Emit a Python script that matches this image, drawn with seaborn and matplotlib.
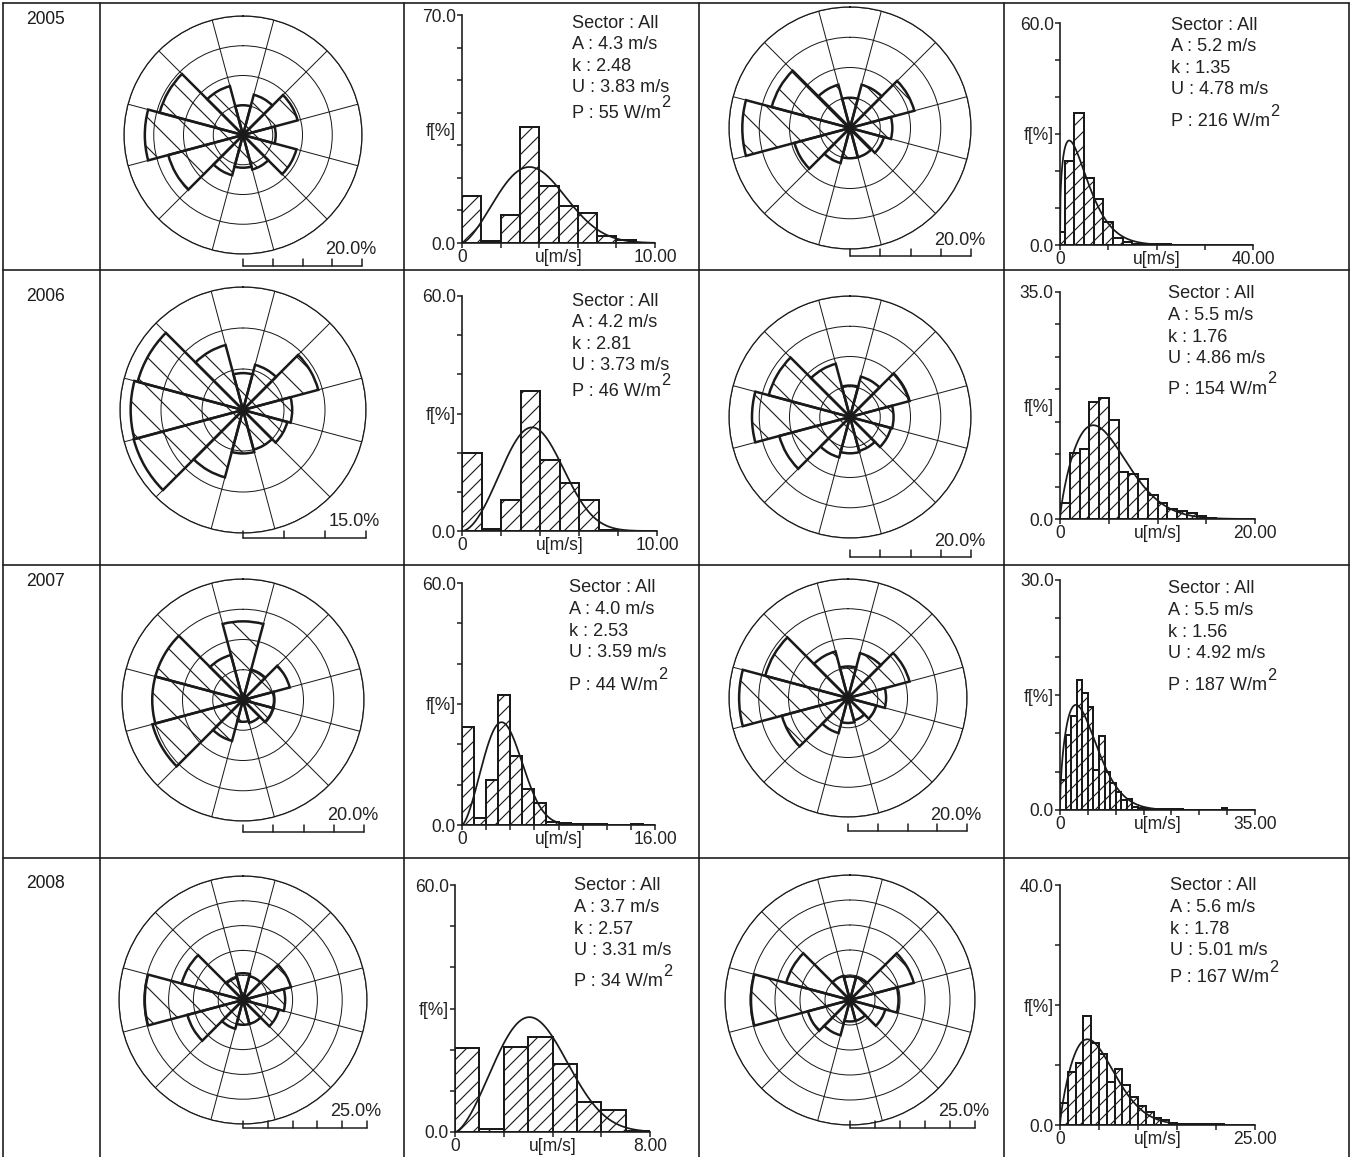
import numpy as np
import matplotlib
matplotlib.use('Agg')
import matplotlib.pyplot as plt
from matplotlib.lines import Line2D
import seaborn as sns

W, H, DPI = 1352, 1157, 90

years = ['2005', '2006', '2007', '2008']
sector_dirs = [0, 30, 60, 90, 120, 150, 180, 210, 240, 270, 300, 330]

# wind rose frequencies [%] per sector (N clockwise), left and right rose of each year
rose_2005_a = [5.0, 7.0, 9.5, 5.5, 9.3, 6.0, 5.5, 7.0, 13.0, 16.5, 14.5, 8.5]
rose_2005_b = [5.0, 7.4, 11.0, 7.0, 5.8, 5.0, 5.0, 6.0, 9.5, 17.8, 13.4, 7.4]
rose_2006_a = [4.5, 5.7, 9.5, 6.0, 5.6, 5.0, 5.3, 8.5, 13.8, 13.7, 13.3, 8.2]
rose_2006_b = [5.2, 6.9, 10.2, 7.2, 7.0, 5.8, 6.0, 6.9, 12.1, 16.2, 13.9, 9.1]
rose_2007_a = [13.0, 5.2, 8.0, 5.2, 5.2, 3.9, 3.6, 7.0, 15.5, 15.0, 15.0, 7.7]
rose_2007_b = [5.3, 7.8, 10.7, 6.4, 4.9, 3.9, 4.2, 6.1, 11.5, 18.3, 14.4, 8.1]
rose_2008_a = [5.4, 5.0, 10.0, 8.5, 7.5, 5.0, 5.0, 6.0, 11.6, 19.8, 12.8, 4.7]
rose_2008_b = [4.7, 4.7, 13.2, 9.7, 7.3, 4.3, 4.3, 7.3, 8.7, 19.8, 13.2, 5.0]
roses = [rose_2005_a, rose_2005_b, rose_2006_a, rose_2006_b,
         rose_2007_a, rose_2007_b, rose_2008_a, rose_2008_b]
rose_scale = [20, 20, 15, 20, 20, 20, 25, 25]

# Weibull statistics shown next to each histogram
weib_A = [4.3, 5.2, 4.2, 5.5, 4.0, 5.5, 3.7, 5.6]
weib_k = [2.48, 1.35, 2.81, 1.76, 2.53, 1.56, 2.57, 1.78]
mean_U = [3.83, 4.78, 3.73, 4.86, 3.59, 4.92, 3.31, 5.01]
power_P = [55, 216, 46, 154, 44, 187, 34, 167]

# speed histograms [%]
hist_2005_a_edges = list(np.arange(0, 11, 1.0))
hist_2005_a = [14.3, 0.5, 8.7, 35.5, 17.6, 11.5, 9.2, 2.2, 0.8, 0.0]
hist_2005_b_edges = [0.0] + list(np.arange(1, 30, 2.0))
hist_2005_b = [3.6, 22.6, 35.6, 18.0, 12.4, 6.3, 1.8, 0.9, 0.4, 0.3, 0.2, 0.2, 0.1, 0.1, 0.1]
hist_2006_a_edges = list(np.arange(0, 9, 1.0))
hist_2006_a = [19.9, 0.5, 7.9, 35.7, 18.1, 12.2, 7.9, 0.2]
hist_2006_b_edges = list(np.arange(0, 17, 1.0))
hist_2006_b = [2.4, 10.1, 10.8, 18.1, 18.7, 15.3, 7.2, 6.9, 6.1, 3.7, 2.4, 1.6, 1.3, 0.9, 0.5, 0.2]
hist_2007_a_edges = list(np.arange(0, 17, 1.0))
hist_2007_a = [24.2, 1.7, 11.2, 32.3, 17.1, 8.9, 5.4, 0.8, 0.5, 0.3, 0.2, 0.3, 0.1, 0.1, 0.3, 0.0]
hist_2007_b_edges = list(np.arange(0, 31, 1.0))
hist_2007_b = [3.9, 9.8, 12.2, 17.0, 15.3, 13.5, 5.2, 9.6, 5.0, 3.5, 2.4, 1.3, 1.4, 0.4, 0.2,
               0.1, 0.1, 0.1, 0.1, 0.1, 0.1, 0.1, 0.0, 0.0, 0.0, 0.0, 0.0, 0.0, 0.0, 0.2]
hist_2008_a_edges = list(np.arange(0, 9, 1.0))
hist_2008_a = [20.4, 0.7, 20.6, 23.0, 16.5, 7.3, 5.3, 0.3]
hist_2008_b_edges = list(np.arange(0, 22, 1.0))
hist_2008_b = [3.7, 8.9, 10.4, 18.1, 13.6, 11.8, 7.1, 9.4, 6.7, 4.6, 3.1, 2.1, 1.2, 0.9, 0.4,
               0.2, 0.1, 0.1, 0.1, 0.1, 0.1]
hist_edges = [hist_2005_a_edges, hist_2005_b_edges, hist_2006_a_edges, hist_2006_b_edges,
              hist_2007_a_edges, hist_2007_b_edges, hist_2008_a_edges, hist_2008_b_edges]
hist_vals = [hist_2005_a, hist_2005_b, hist_2006_a, hist_2006_b,
             hist_2007_a, hist_2007_b, hist_2008_a, hist_2008_b]
bin_width = [1, 2, 1, 1, 1, 1, 1, 1]
x_max = [10, 40, 10, 20, 16, 35, 8, 25]
x_step = [2, 10, 2, 5, 2, 5, 2, 5]
y_max = [70, 60, 60, 35, 60, 30, 60, 40]
y_step = [10, 10, 10, 5, 10, 5, 10, 10]

# layout in pixels
rose_center = [(243, 135), (850, 128), (243, 410), (850, 417),
               (243, 700), (848, 698), (243, 1000), (850, 1000)]
rose_rad = [119, 121, 123, 121, 121, 119, 124, 125]
bar_off = [1.10, 1.06, 1.04, 1.16, 1.09, 1.12, 1.03, 1.02]
hist_box = [(462, 15, 655, 243), (1060, 23, 1253, 245), (462, 296, 657, 531), (1060, 292, 1255, 519),
            (462, 583, 655, 825), (1060, 580, 1255, 810), (455, 885, 650, 1132), (1060, 885, 1255, 1125)]
text_pos = [(572, 23), (1171, 25), (572, 301), (1168, 294),
            (569, 588), (1168, 589), (574, 886), (1170, 886)]
p_gap = [90, 97, 90, 95, 97, 97, 96, 92]
year_y = [20, 297, 582, 884]

sns.set_theme(style='white')
plt.rcParams['font.family'] = ['Liberation Sans', 'DejaVu Sans']
plt.rcParams['hatch.linewidth'] = 0.9

fig = plt.figure(figsize=(W / DPI, H / DPI), dpi=DPI)
fig.patch.set_facecolor('white')


def add_px_axes(x0, y0, x1, y1, **kw):
    return fig.add_axes([x0 / W, 1 - y1 / H, (x1 - x0) / W, (y1 - y0) / H], **kw)


# table grid
for x in [3, 100, 404, 699, 1004, 1349]:
    fig.add_artist(Line2D([x / W, x / W], [0, 1 - 3 / H], transform=fig.transFigure, color='k', lw=1.3))
for y in [3, 270, 565, 858]:
    fig.add_artist(Line2D([3 / W, 1349 / W], [1 - y / H, 1 - y / H], transform=fig.transFigure, color='k', lw=1.3))

for yr, yy in zip(years, year_y):
    fig.text(26 / W, 1 - yy / H, yr, fontsize=14, va='center', ha='left', color='k')

# wind roses
for i in range(8):
    cx, cy = rose_center[i]
    R = rose_rad[i]
    ax = add_px_axes(cx - R, cy - R, cx + R, cy + R, projection='polar')
    ax.set_theta_zero_location('N')
    ax.set_theta_direction(-1)
    ax.bar(np.deg2rad(sector_dirs), roses[i], width=np.deg2rad(30), bottom=0,
           facecolor='none', edgecolor='k', linewidth=2.0, hatch='\\', zorder=3)
    ax.set_ylim(0, rose_scale[i])
    ax.set_yticks(np.arange(5, rose_scale[i] + 0.1, 5))
    ax.set_yticklabels([])
    ax.set_xticks(np.deg2rad(np.arange(15, 360, 30)))
    ax.set_xticklabels([])
    ax.grid(True, color='k', linewidth=0.8)
    ax.spines['polar'].set_color('k')
    ax.spines['polar'].set_linewidth(1.0)
    ax.set_facecolor('none')
    # scale bar
    n = rose_scale[i] // 5
    yb = 0.5 - bar_off[i] / 2
    th = 7 / (2 * R)
    ax.plot([0.5, 1.0], [yb, yb], transform=ax.transAxes, color='k', lw=1.2, clip_on=False)
    for j in range(n + 1):
        xt = 0.5 + 0.5 * j / n
        ax.plot([xt, xt], [yb, yb + th], transform=ax.transAxes, color='k', lw=1.2, clip_on=False)
    ax.text(1.0 + 14 / (2 * R), yb + 16 / (2 * R), f'{rose_scale[i]:.1f}%', transform=ax.transAxes,
            ha='right', va='center', fontsize=14.5, color='#222222')

# histograms with Weibull fit
for i in range(8):
    ax = add_px_axes(*hist_box[i])
    edges = list(hist_edges[i])
    centers = [(a + b) / 2 for a, b in zip(edges[:-1], edges[1:])]
    sns.histplot(x=centers, weights=hist_vals[i], bins=edges, ax=ax, stat='count',
                 facecolor='white', edgecolor='k', linewidth=1.6, hatch='//', alpha=1)
    A, k = weib_A[i], weib_k[i]
    u = np.linspace(0, x_max[i], 400)
    f = 100 * bin_width[i] * k / A * (u / A) ** (k - 1) * np.exp(-(u / A) ** k)
    sns.lineplot(x=u, y=f, ax=ax, color='k', linewidth=1.4)
    ax.set_xlim(0, x_max[i])
    ax.set_ylim(0, y_max[i])
    ax.xaxis.remove_overlapping_locs = False
    ax.yaxis.remove_overlapping_locs = False
    xt = np.arange(0, x_max[i] + 0.01, x_step[i])
    ax.set_xticks(xt, ['0'] + [''] * (len(xt) - 2) + [f'{x_max[i]:.2f}'])
    ax.set_xticks([x_max[i] / 2], ['u[m/s]'], minor=True)
    yt = np.arange(0, y_max[i] + 0.01, y_step[i])
    ax.set_yticks(yt, ['0.0'] + [''] * (len(yt) - 2) + [f'{y_max[i]:.1f}'])
    ax.set_yticks([y_max[i] / 2], ['f[%]'], minor=True)
    ax.set_xlabel('')
    ax.set_ylabel('')
    for s in ['top', 'right']:
        ax.spines[s].set_visible(False)
    for s in ['left', 'bottom']:
        ax.spines[s].set_color('k')
        ax.spines[s].set_linewidth(1.3)
    ax.tick_params(which='major', direction='out', length=4, width=1.2, color='k',
                   labelsize=14, labelcolor='#222222', pad=1, left=True, bottom=True)
    ax.tick_params(which='minor', length=0, labelsize=14, labelcolor='#222222', pad=5)
    ax.set_facecolor('none')

    tx, ty = text_pos[i]
    lines = ['Sector : All', f'A : {A:.1f} m/s', f'k : {k:.2f}', f'U : {mean_U[i]:.2f} m/s']
    for j, s in enumerate(lines):
        fig.text(tx / W, 1 - (ty + 21.6 * j) / H, s, fontsize=14.5, va='center', ha='left', color='#222222')
    tp = fig.text(tx / W, 1 - (ty + p_gap[i]) / H, f'P : {power_P[i]} W/m', fontsize=14.5,
                  va='center', ha='left', color='#222222')
    ax.annotate('2', xy=(1, 1), xycoords=tp, xytext=(0, 1.5), textcoords='offset points',
                fontsize=13, ha='left', va='center', color='#222222', annotation_clip=False)

fig.savefig('out.png', dpi=DPI, facecolor='white')
